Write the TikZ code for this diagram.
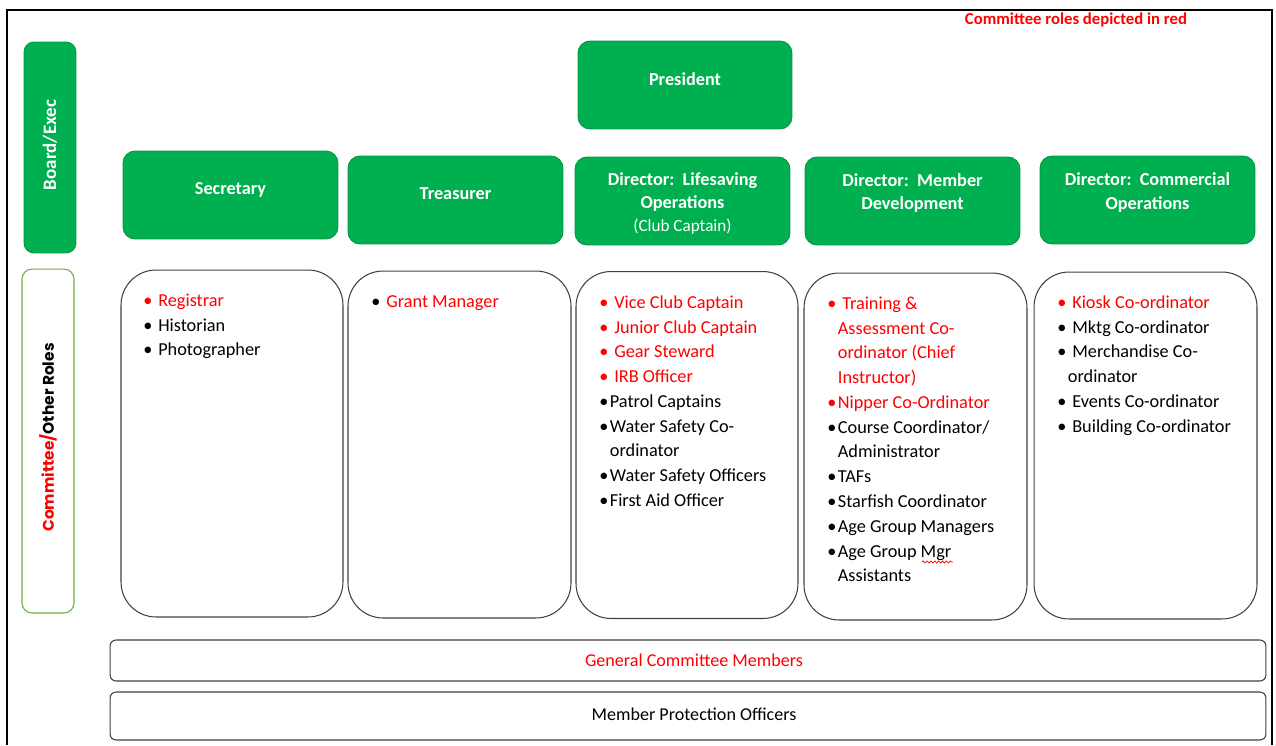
\documentclass[tikz,border=0pt]{standalone}
\usepackage{fontspec}
\setmainfont{Carlito}
\newfontfamily\geofont{Poppins}
\usepackage{xcolor}
\usetikzlibrary{positioning, decorations.pathmorphing}

\definecolor{offgreen}{RGB}{0,176,80}
\definecolor{edgegreen}{RGB}{112,173,71}
\definecolor{boxgray}{RGB}{64,64,64}

% list items: red / black bullet, wide or narrow gap
\newcommand{\ritem}[1]{{\color{red}\strut\makebox[8.5pt][l]{\textbullet}#1}}
\newcommand{\kitem}[1]{\strut\makebox[8.5pt][l]{\textbullet}#1}
\newcommand{\nitem}[1]{\strut\makebox[6pt][l]{\textbullet}#1}
\newcommand{\cont}{\hspace*{6pt}}

\tikzset{
  greenbox/.style={rectangle, rounded corners=0.24cm, fill=offgreen, draw=offgreen!85!black, line width=0.5pt, inner sep=0pt},
  headtext/.style={text=white, font=\bfseries\fontsize{10.4}{13.6}\selectfont, align=center, inner sep=0pt},
  rolebox/.style={rectangle, rounded corners=0.7cm, draw=boxgray, line width=0.6pt, inner sep=0pt, minimum width=4.44cm, minimum height=6.94cm},
  roletext/.style={anchor=north west, align=left, inner sep=0pt, font=\fontsize{10.4}{14.1}\selectfont},
  barbox/.style={rectangle, rounded corners=0.12cm, draw=boxgray, line width=0.6pt, inner sep=0pt, minimum width=23.12cm, font=\fontsize{10.3}{12}\selectfont}
}

\begin{document}
\begin{tikzpicture}[x=0.02cm, y=-0.02cm]
  \useasboundingbox (0,0) rectangle (1276,745);
  % outer frame, open at the bottom
  \draw[line width=1.2pt] (7,745) -- (7,10) -- (1272,10) -- (1272,745);

  \node[text=red, font=\bfseries\fontsize{9.5}{11}\selectfont, inner sep=0pt] (note) at (1076,20) {Committee roles depicted in red};

  % side labels
  \node[greenbox, rounded corners=0.2cm, minimum width=1.04cm, minimum height=4.22cm] (board) at (50,147.5) {};
  \node[headtext, rotate=90, font=\bfseries\fontsize{10.8}{13}\selectfont] (board-t) at (50,145) {Board/Exec};
  \node[rectangle, rounded corners=0.2cm, draw=edgegreen, line width=0.6pt, minimum width=1.04cm, minimum height=6.88cm] (cttee) at (48,441) {};
  \node[rotate=90, inner sep=0pt, font=\geofont\bfseries\fontsize{8.8}{10}\selectfont] (cttee-t) at (48,437.5) {\textcolor{red}{Committee/}Other Roles};

  % board / exec boxes
  \node[greenbox, minimum width=4.28cm, minimum height=1.76cm] (pres) at (685,85) {};
  \node[headtext] (pres-t) at (685,79) {President};
  \node[greenbox, minimum width=4.3cm, minimum height=1.76cm] (sec) at (230.5,195) {};
  \node[headtext] (sec-t) at (230.5,190) {Secretary};
  \node[greenbox, minimum width=4.3cm, minimum height=1.76cm] (treas) at (455.5,200) {};
  \node[headtext] (treas-t) at (455.5,194) {Treasurer};
  \node[greenbox, minimum width=4.3cm, minimum height=1.76cm] (dlife) at (682.5,201) {};
  \node[headtext] (dlife-t) at (682.5,203) {Director:\ \ Lifesaving\\Operations\\[-1pt]{\mdseries\fontsize{9.75}{11}\selectfont(Club Captain)}};
  \node[greenbox, minimum width=4.3cm, minimum height=1.76cm] (dmem) at (912.5,201) {};
  \node[headtext] (dmem-t) at (912.5,193) {Director:\ \ Member\\Development};
  \node[greenbox, minimum width=4.3cm, minimum height=1.76cm] (dcom) at (1147.5,200) {};
  \node[headtext] (dcom-t) at (1147.5,192.5) {Director:\ \ Commercial\\Operations};

  % committee / other roles
  \node[rolebox] (sec-r) at (232,443.5) {};
  \node[roletext] (sec-l) at (143,288.6) {\ritem{Registrar}\\\kitem{Historian}\\\kitem{Photographer}};

  \node[rolebox, minimum width=4.46cm] (treas-r) at (459.5,444.5) {};
  \node[roletext] (treas-l) at (371,289.6) {\kitem{\textcolor{red}{Grant Manager}}};

  \node[rolebox] (dlife-r) at (687,445) {};
  \node[roletext] (dlife-l) at (599,290.6) {\ritem{Vice Club Captain}\\\ritem{Junior Club Captain}\\\ritem{Gear Steward}\\\ritem{IRB Officer}\\
    \nitem{Patrol Captains}\\\nitem{Water Safety Co-}\\\cont ordinator\\\nitem{Water Safety Officers}\\\nitem{First Aid Officer}};

  \node[rolebox, minimum width=4.46cm] (dmem-r) at (915.5,446.5) {};
  \node[roletext] (dmem-l) at (827,291.6) {\ritem{Training \&}\\{\color{red}\cont Assessment Co-}\\{\color{red}\cont ordinator (Chief}\\{\color{red}\cont Instructor)}\\
    {\color{red}\nitem{Nipper Co-Ordinator}}\\\nitem{Course Coordinator/}\\\cont Administrator\\\nitem{TAFs}\\\nitem{Starfish Coordinator}\\
    \nitem{Age Group Managers}\\\nitem{Age Group Mgr}\\\cont Assistants};
  \draw[red, line width=0.4pt, decorate, decoration={snake, amplitude=0.6pt, segment length=2.2pt}] (922,562) -- (953,562);

  \node[rolebox, minimum width=4.46cm] (dcom-r) at (1145.5,445.5) {};
  \node[roletext] (dcom-l) at (1057,290.6) {\ritem{Kiosk Co-ordinator}\\\kitem{Mktg Co-ordinator}\\\kitem{Merchandise Co-}\\\cont ordinator\\
    \kitem{Events Co-ordinator}\\\kitem{Building Co-ordinator}};

  % full width bars
  \node[barbox, minimum height=0.82cm] (general) at (688,660.5) {};
  \node[text=red, inner sep=0pt, font=\fontsize{10.3}{12}\selectfont] (general-t) at (694,660.5) {General Committee Members};
  \node[barbox, minimum height=0.96cm] (mpo) at (688,716) {};
  \node[inner sep=0pt, font=\fontsize{10.3}{12}\selectfont] (mpo-t) at (694,714) {Member Protection Officers};
\end{tikzpicture}
\end{document}
